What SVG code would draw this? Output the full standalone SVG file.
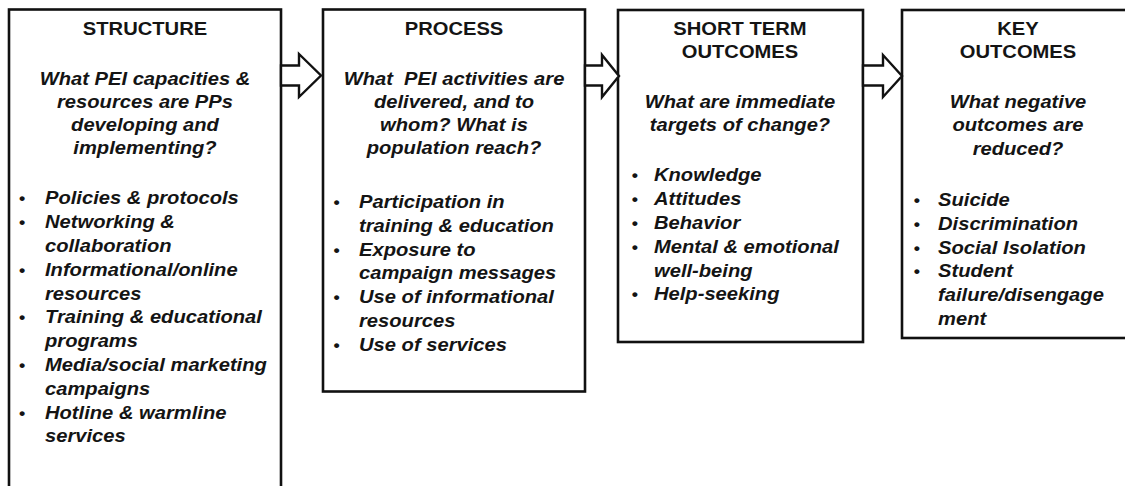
<svg xmlns="http://www.w3.org/2000/svg" width="1125" height="486" viewBox="0 0 1125 486">
  <style>
    .box { fill: #ffffff; stroke: #111111; stroke-width: 2.6; }
    .arrow { fill: #ffffff; stroke: #111111; stroke-width: 2.4; stroke-linejoin: miter; }
    text { font-family: "Liberation Sans", Arial, sans-serif; font-weight: bold; font-size: 18px; fill: #141414; }
    .title { text-anchor: middle; }
    .q { text-anchor: middle; font-style: italic; }
    .item { font-style: italic; }
    .dot { text-anchor: middle; font-size: 16px; }
  </style>

  <rect width="1125" height="486" fill="#ffffff"/>

  <!-- Column 1: structure -->
  <g id="structure">
    <rect class="box" x="9" y="9.5" width="272" height="500"/>
    <g transform="translate(145 0) scale(1.12 1)">
      <text class="title" x="0" y="35">STRUCTURE</text>
      <text class="q" x="0" y="85">What PEI capacities &amp;</text>
      <text class="q" x="0" y="108">resources are PPs</text>
      <text class="q" x="0" y="131">developing and</text>
      <text class="q" x="0" y="154">implementing?</text>
      <text class="dot" x="-109.8" y="204.5">•</text>
      <text class="item" x="-89.3" y="204.5">Policies &amp; protocols</text>
      <text class="dot" x="-109.8" y="228.3">•</text>
      <text class="item" x="-89.3" y="228.3">Networking &amp;</text>
      <text class="item" x="-89.3" y="252.1">collaboration</text>
      <text class="dot" x="-109.8" y="275.9">•</text>
      <text class="item" x="-89.3" y="275.9">Informational/online</text>
      <text class="item" x="-89.3" y="299.7">resources</text>
      <text class="dot" x="-109.8" y="323.5">•</text>
      <text class="item" x="-89.3" y="323.5">Training &amp; educational</text>
      <text class="item" x="-89.3" y="347.3">programs</text>
      <text class="dot" x="-109.8" y="371.1">•</text>
      <text class="item" x="-89.3" y="371.1">Media/social marketing</text>
      <text class="item" x="-89.3" y="394.9">campaigns</text>
      <text class="dot" x="-109.8" y="418.7">•</text>
      <text class="item" x="-89.3" y="418.7">Hotline &amp; warmline</text>
      <text class="item" x="-89.3" y="442.5">services</text>
    </g>
  </g>

  <!-- Column 2: process -->
  <g id="process">
    <rect class="box" x="323" y="9.5" width="262" height="382"/>
    <g transform="translate(454 0) scale(1.12 1)">
      <text class="title" x="0" y="35">PROCESS</text>
      <text class="q" x="0" y="85">What&#160; PEI activities are</text>
      <text class="q" x="0" y="108">delivered, and to</text>
      <text class="q" x="0" y="131">whom? What is</text>
      <text class="q" x="0" y="154">population reach?</text>
      <text class="dot" x="-104.9" y="208">•</text>
      <text class="item" x="-84.8" y="208">Participation in</text>
      <text class="item" x="-84.8" y="231.8">training &amp; education</text>
      <text class="dot" x="-104.9" y="255.6">•</text>
      <text class="item" x="-84.8" y="255.6">Exposure to</text>
      <text class="item" x="-84.8" y="279.4">campaign messages</text>
      <text class="dot" x="-104.9" y="303.2">•</text>
      <text class="item" x="-84.8" y="303.2">Use of informational</text>
      <text class="item" x="-84.8" y="327">resources</text>
      <text class="dot" x="-104.9" y="350.8">•</text>
      <text class="item" x="-84.8" y="350.8">Use of services</text>
    </g>
  </g>

  <!-- Column 3: short term outcomes -->
  <g id="short-term-outcomes">
    <rect class="box" x="618" y="10" width="245" height="332"/>
    <g transform="translate(740 0) scale(1.12 1)">
      <text class="title" x="0" y="35">SHORT TERM</text>
      <text class="title" x="0" y="58.5">OUTCOMES</text>
      <text class="q" x="0" y="108">What are immediate</text>
      <text class="q" x="0" y="131">targets of change?</text>
      <text class="dot" x="-93.75" y="181.5">•</text>
      <text class="item" x="-76.8" y="181.5">Knowledge</text>
      <text class="dot" x="-93.75" y="205.3">•</text>
      <text class="item" x="-76.8" y="205.3">Attitudes</text>
      <text class="dot" x="-93.75" y="229.1">•</text>
      <text class="item" x="-76.8" y="229.1">Behavior</text>
      <text class="dot" x="-93.75" y="252.9">•</text>
      <text class="item" x="-76.8" y="252.9">Mental &amp; emotional</text>
      <text class="item" x="-76.8" y="276.7">well-being</text>
      <text class="dot" x="-93.75" y="300.5">•</text>
      <text class="item" x="-76.8" y="300.5">Help-seeking</text>
    </g>
  </g>

  <!-- Column 4: key outcomes -->
  <g id="key-outcomes">
    <rect class="box" x="902" y="10" width="240" height="328"/>
    <g transform="translate(1018 0) scale(1.12 1)">
      <text class="title" x="0" y="35">KEY</text>
      <text class="title" x="0" y="58.5">OUTCOMES</text>
      <text class="q" x="0" y="108">What negative</text>
      <text class="q" x="0" y="131.5">outcomes are</text>
      <text class="q" x="0" y="155">reduced?</text>
      <text class="dot" x="-90.2" y="206">•</text>
      <text class="item" x="-71.4" y="206">Suicide</text>
      <text class="dot" x="-90.2" y="229.8">•</text>
      <text class="item" x="-71.4" y="229.8">Discrimination</text>
      <text class="dot" x="-90.2" y="253.6">•</text>
      <text class="item" x="-71.4" y="253.6">Social Isolation</text>
      <text class="dot" x="-90.2" y="277.4">•</text>
      <text class="item" x="-71.4" y="277.4">Student</text>
      <text class="item" x="-71.4" y="301.2">failure/disengage</text>
      <text class="item" x="-71.4" y="325">ment</text>
    </g>
  </g>

  <!-- Block arrows between the columns -->
  <g id="connectors">
    <polygon class="arrow" points="281,65.5 299,65.5 299,54 321,75.5 299,97 299,85.5 281,85.5"/>
    <polygon class="arrow" points="585,65.5 602,65.5 602,55 619,76 602,97 602,85.5 585,85.5"/>
    <polygon class="arrow" points="863,65.5 883,65.5 883,55 902,76 883,97 883,85.5 863,85.5"/>
  </g>
</svg>
